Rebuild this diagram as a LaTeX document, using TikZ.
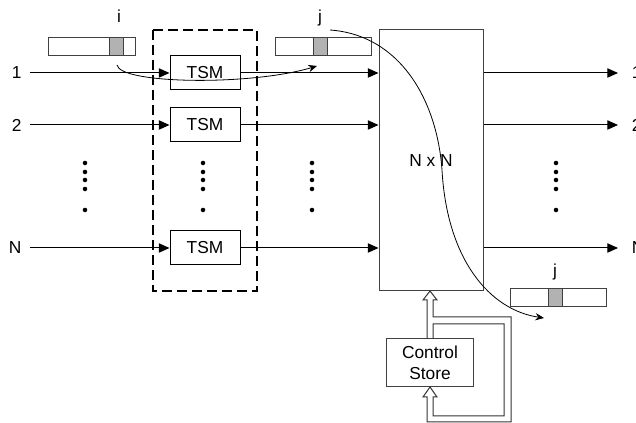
\documentclass[tikz,border=0pt]{standalone}
\usepackage{fontspec}
\setmainfont{Liberation Sans}
\usetikzlibrary{positioning, arrows.meta}

\begin{document}
\begin{tikzpicture}[x=0.75pt, y=-0.75pt, line width=0.75pt,
    >={Triangle[length=8pt,width=7pt]},
    font=\fontsize{13}{15.5}\selectfont,
    tsmbox/.style={draw, rectangle, minimum width=52.5pt, minimum height=25.5pt, inner sep=0pt},
    queue/.style={draw=black!75, rectangle, minimum height=13.5pt, inner sep=0pt},
    slot/.style={draw=black!75, fill=black!30, rectangle, minimum width=10.5pt, minimum height=13.5pt, inner sep=0pt},
    port/.style={inner xsep=6pt, inner ysep=2pt},
    lbl/.style={text height=8pt, text depth=2pt, inner sep=0pt},
    curvy/.style={-{Stealth[length=6.5pt,width=5.5pt]}, line width=0.6pt}]
  \useasboundingbox (0,0) rectangle (636,423);

  % time slot interchangers
  \node[tsmbox] (tsm1) at (205,73) {TSM};
  \node[tsmbox] (tsm2) at (205,125) {TSM};
  \node[tsmbox] (tsmN) at (205,248) {TSM};
  \draw[line width=1.4pt, dash pattern=on 7.5pt off 3.75pt] (153,30) rectangle (257,291);

  % space switch and its control
  \node[draw=black!75, minimum width=78pt, minimum height=195.75pt, inner sep=0pt] (sw) at (431,160.5) {N x N};
  \node[draw=black!75, minimum width=65.25pt, minimum height=36pt, inner sep=0pt, align=center] (ctl) at (430,363) {Control\\Store};

  % frames
  \node[queue, minimum width=65.25pt] (qi) at (91.5,47) {};
  \node[slot] (icell) at (116.5,47) {};
  \node[lbl, above=8.5pt of icell, xshift=2pt] (ilbl) {i};
  \node[queue, minimum width=72pt] (qj) at (323,47) {};
  \node[slot] (jcell) at (320,47) {};
  \node[lbl, above=8.5pt of jcell] (jlbl) {j};
  \node[queue, minimum width=72pt] (qout) at (558,297.5) {};
  \node[slot] (ocell) at (555,297.5) {};
  \node[lbl, above=6.25pt of ocell] (olbl) {j};

  % ports
  \node[port, anchor=east] (in1) at (30,73) {1};
  \node[port, anchor=east] (in2) at (30,125) {2};
  \node[port, anchor=east] (inN) at (30,248) {N};
  \node[port, anchor=west, inner xsep=10pt] (out1) at (618,73) {1};
  \node[port, anchor=west, inner xsep=10pt] (out2) at (618,125) {2};
  \node[port, anchor=west, inner xsep=10pt] (outN) at (618,248) {N};

  \foreach \r in {1,2,N} {
    \draw[->] (in\r) -- (tsm\r);
    \draw[->] (tsm\r) -- (tsm\r -| sw.west);
    \draw[->] (tsm\r -| sw.east) -- (out\r);
  }

  \foreach \x in {85,203,312,556}
    \foreach \y in {163,172,180,189,210}
      \fill (\x,\y) circle[radius=1.7pt];

  % slot moves
  \coordinate (ifrom) at (117,65);
  \coordinate (ito) at (317,66);
  \draw[curvy] (ifrom) .. controls (120,84) and (250,86) .. (ito);
  \coordinate (jfrom) at (330,30);
  \coordinate (jto) at (544,318);
  \draw[curvy] (jfrom) .. controls (400,35) and (437,100) .. (442,170)
    .. controls (447,260) and (490,310) .. (jto);

  % hollow feedback arrow
  \draw[black!80] (427,339) -- (427,300) -- (423,300) -- (430,291) -- (437,300) -- (433,300)
    -- (433,317) -- (511,317) -- (511,422) -- (427,422) -- (427,397) -- (423,397)
    -- (430,387) -- (437,397) -- (433,397) -- (433,416) -- (504,416) -- (504,324)
    -- (433,324) -- (433,339);
\end{tikzpicture}
\end{document}
